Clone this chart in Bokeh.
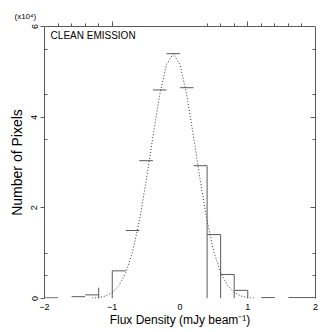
import numpy as np
from bokeh.plotting import figure
from bokeh.models import Range1d, LinearAxis, FixedTicker, Label, Title
from bokeh.embed import file_html
from bokeh.resources import INLINE

# ---- data ----
# histogram bins: left edges (width 0.2 mJy/beam), counts in units of 1e4 pixels
bin_left = [-2.0, -1.8, -1.6, -1.4, -1.2, -1.0, -0.8, -0.6, -0.4, -0.2,
            0.0, 0.2, 0.4, 0.6, 0.8, 1.0, 1.2, 1.4, 1.6, 1.8]
counts = [0.015, 0.0, 0.04, 0.08, 0.0, 0.61, 1.50, 3.04, 4.60, 5.40,
          4.65, 2.93, 1.41, 0.53, 0.18, 0.0, 0.02, 0.0, 0.02, 0.02]
bin_width = 0.2

# vertical step edges that are visible in the reference
edge_x = [-1.2, -1.0, 0.4, 0.6, 0.8, 1.0]
edge_top = [0.24, 0.61, 2.93, 1.41, 0.53, 0.18]

# fitted gaussian curve (dotted)
curve_x = [-1.3, -1.2, -1.1, -1.0, -0.9, -0.8, -0.7, -0.6, -0.5, -0.4, -0.3,
           -0.2, -0.1, 0.0, 0.1, 0.2, 0.3, 0.4, 0.5, 0.6, 0.7, 0.8, 0.9, 1.0, 1.1]
curve_y = [0.007, 0.021, 0.055, 0.13, 0.29, 0.57, 1.03, 1.71, 2.59, 3.57, 4.49,
           5.16, 5.40, 5.16, 4.49, 3.57, 2.59, 1.71, 1.03, 0.57, 0.29, 0.13, 0.055, 0.021, 0.007]

x_ticks = [-2, -1, 0, 1, 2]
y_ticks = [0, 2, 4, 6]
y_minor = [0.5, 1.0, 3.5, 4.5, 5.5]
top_major = [-1, 1]
top_minor = [-1.8, -1.6, -1.4, -1.2, 0.4, 0.6, 0.8, 1.2, 1.4, 1.6, 1.8]

FONT = "Liberation Sans"
LINE = "#5a5a5a"

p = figure(width=332, height=332, output_backend="svg", toolbar_location=None,
           x_range=Range1d(-2, 2), y_range=Range1d(0, 6),
           x_axis_location=None, y_axis_location=None,
           min_border_left=44, min_border_right=17, min_border_top=26, min_border_bottom=34)
p.grid.visible = False
p.outline_line_color = None
p.background_fill_color = "white"
p.border_fill_color = "white"

# bottom axis: labels only
xb = LinearAxis(ticker=FixedTicker(ticks=x_ticks, minor_ticks=[]))
xb.axis_line_color = None
xb.major_tick_line_color = None
xb.minor_tick_line_color = None
xb.major_tick_out = 0
xb.major_label_standoff = 5
xb.major_label_text_font = FONT
xb.major_label_text_font_size = "9px"
xb.major_label_text_color = "black"
xb.axis_label = "Flux Density (mJy beam⁻¹)"
xb.axis_label_standoff = 0
xb.axis_label_text_font = FONT
xb.axis_label_text_font_size = "12px"
xb.axis_label_text_font_style = "normal"
xb.axis_label_text_color = "black"
p.add_layout(xb, "below")

# top axis: ticks only
xt = LinearAxis(ticker=FixedTicker(ticks=top_major, minor_ticks=top_minor))
xt.axis_line_color = LINE
xt.major_tick_line_color = LINE
xt.minor_tick_line_color = LINE
xt.major_tick_in = 0
xt.major_tick_out = 5
xt.minor_tick_in = 0
xt.minor_tick_out = 3
xt.major_label_overrides = {-1: "", 1: ""}
xt.major_label_text_font_size = "1px"
xt.major_label_standoff = 0
p.add_layout(xt, "above")

# left axis
yl = LinearAxis(ticker=FixedTicker(ticks=y_ticks, minor_ticks=y_minor))
yl.axis_line_color = LINE
yl.major_tick_line_color = LINE
yl.minor_tick_line_color = LINE
yl.major_tick_in = 0
yl.major_tick_out = 4
yl.minor_tick_in = 3
yl.minor_tick_out = 0
yl.major_label_orientation = "vertical"
yl.major_label_standoff = 3
yl.major_label_text_font = FONT
yl.major_label_text_font_size = "9px"
yl.major_label_text_color = "black"
yl.axis_label = "Number of Pixels"
yl.axis_label_standoff = 4
yl.axis_label_text_font = FONT
yl.axis_label_text_font_size = "14px"
yl.axis_label_text_font_style = "normal"
yl.axis_label_text_color = "black"
p.add_layout(yl, "left")

# right axis: ticks only
yr = LinearAxis(ticker=FixedTicker(ticks=[2, 4], minor_ticks=y_minor))
yr.axis_line_color = LINE
yr.major_tick_line_color = LINE
yr.minor_tick_line_color = LINE
yr.major_tick_in = 5
yr.major_tick_out = 0
yr.minor_tick_in = 3
yr.minor_tick_out = 0
yr.major_label_overrides = {2: "", 4: ""}
yr.major_label_text_font_size = "1px"
yr.major_label_standoff = 0
p.add_layout(yr, "right")

# scale note above the left axis
p.add_layout(Title(text="(x10⁴)", align="left", offset=-30, standoff=2,
                   text_font=FONT, text_font_size="8px", text_font_style="normal",
                   text_color="black"), "above")

# histogram tops
lo = np.array(bin_left)
c = np.array(counts)
m = c > 0
p.segment(x0=lo[m], x1=lo[m] + bin_width, y0=c[m], y1=c[m], line_color=LINE, line_width=1)
# visible vertical edges
p.segment(x0=edge_x, x1=edge_x, y0=[0] * len(edge_x), y1=edge_top, line_color=LINE, line_width=1)

# gaussian fit (dotted)
p.line(curve_x, curve_y, line_color="#333333", line_width=1, line_dash="1 2")

# panel text
p.add_layout(Label(x=-1.91, y=5.80, text="CLEAN EMISSION", text_font=FONT,
                   text_font_size="10px", text_baseline="middle", text_align="left",
                   text_color="black"))

open("out.html", "w").write(file_html(p, INLINE))
